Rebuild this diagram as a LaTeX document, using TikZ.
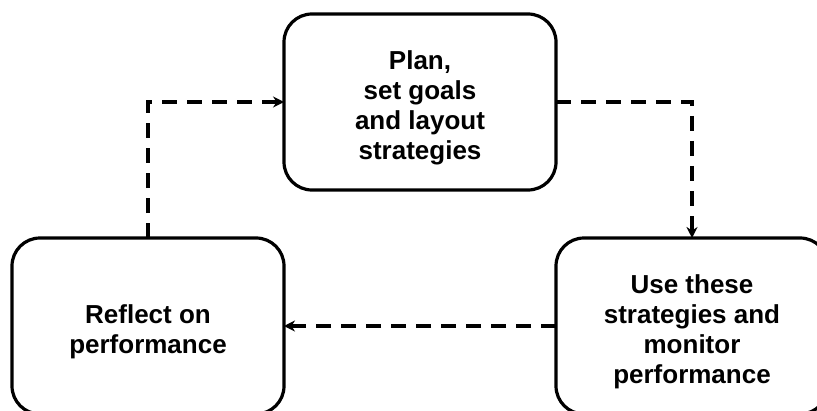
\documentclass[tikz,border=0pt]{standalone}
\usepackage{fontspec}
\setmainfont{Liberation Sans}
\usetikzlibrary{arrows.meta, positioning}
\newcommand{\topgap}{\rule{0pt}{15.5pt}}

\begin{document}
\begin{tikzpicture}[x=0.5pt,y=-0.5pt,>={Stealth[length=5.5pt,width=5.5pt]},stage/.style={draw,line width=1.6pt,rectangle,rounded corners=14pt,minimum width=136pt,minimum height=88pt,outer sep=0pt,align=center,font=\fontsize{13pt}{15pt}\selectfont\bfseries},flow/.style={->,line width=1.8pt,dash pattern=on 7.5pt off 5pt}]
  \useasboundingbox (0,0) rectangle (817,411);
  \clip (0,0) rectangle (817,411);
  \node[stage] (plan) at (420,102) {\topgap Plan,\\set goals\\and layout\\strategies};
  \node[stage,below right=24pt and 0pt of plan] (use) {\topgap Use these\\strategies and\\monitor\\performance};
  \node[stage,below left=24pt and 0pt of plan] (reflect) {\topgap Reflect on\\performance};
  \draw[flow] (plan.east) -| (use.north);
  \draw[flow] (use.west) -- (reflect.east);
  \draw[flow] (reflect.north) |- (plan.west);
\end{tikzpicture}
\end{document}
